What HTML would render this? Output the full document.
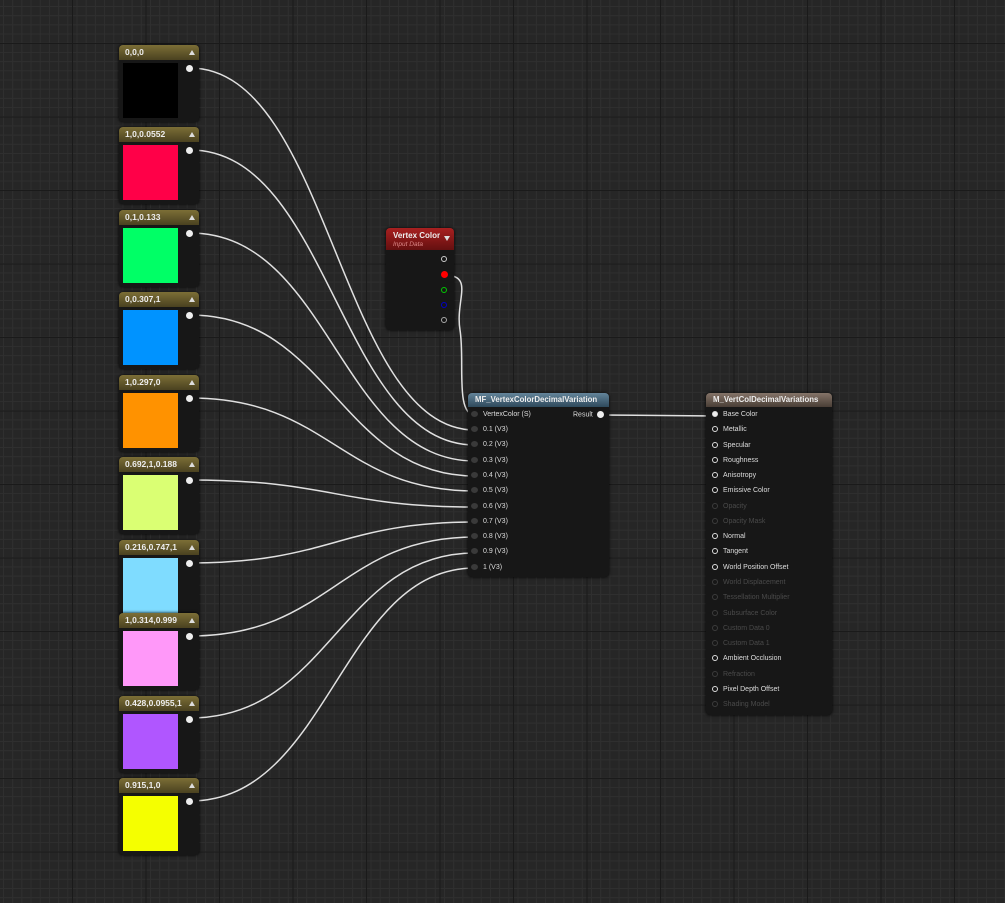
<!DOCTYPE html>
<html><head><style>
html,body{margin:0;padding:0;width:1005px;height:903px;overflow:hidden;background:#262626;font-family:"Liberation Sans",sans-serif;}
#bg{position:absolute;left:0;top:0;width:1005px;height:903px;
background-image:
linear-gradient(to right,#1a1a1a 0 1px,transparent 1px),
linear-gradient(to bottom,#1a1a1a 0 1px,transparent 1px),
linear-gradient(to right,#2f2f2f 0 1px,transparent 1px),
linear-gradient(to bottom,#2f2f2f 0 1px,transparent 1px);
background-size:73.5px 73.5px,73.5px 73.5px,9.19px 9.19px,9.19px 9.19px;
background-position:72px 0,0 43px,3px 0,0 6px;}
.n{position:absolute;background:#171717;border-radius:4px;box-shadow:0 0 3px #000;}
.ch{position:absolute;left:0;right:0;top:0;height:15px;border-radius:4px 4px 0 0;background:linear-gradient(#7c6e36,#4a4120);color:#eee;font-size:8.5px;font-weight:bold;line-height:15px;padding-left:6px;box-sizing:border-box}
.tri{position:absolute;right:4px;top:5px;width:0;height:0;border-left:3px solid transparent;border-right:3px solid transparent;border-bottom:5px solid #ddd}
.sw{position:absolute;left:4px;top:18px;width:55px;height:55px}
.pin{position:absolute;width:7px;height:7px;border-radius:50%;background:#eee}
.row{position:absolute;font-size:7px;color:#ddd;white-space:nowrap}
.dim{color:#4a4a4a}
.ip{display:inline-block;width:6px;height:6px;border-radius:50%;border:1.5px solid #ddd;box-sizing:border-box;vertical-align:middle;margin-right:5px}
.dim .ip{border-color:#3c3c3c}
.gp{display:inline-block;width:7px;height:6px;border-radius:50%;background:#3a3a3a;vertical-align:middle;margin-right:5px}
</style></head><body>
<div id="bg"></div>
<svg width="1005" height="903" style="position:absolute;left:0;top:0" fill="none" stroke="#e0e0e0" stroke-width="1.5">
<path d="M190 68 C330 68 340 430 475 430"/>
<path d="M190 150 C330 150 340 445 475 445"/>
<path d="M190 233 C330 233 340 461 475 461"/>
<path d="M190 315 C330 315 340 476 475 476"/>
<path d="M190 398 C330 398 340 491 475 491"/>
<path d="M190 480 C330 480 340 507 475 507"/>
<path d="M190 563 C330 563 340 522 475 522"/>
<path d="M190 636 C330 636 340 537 475 537"/>
<path d="M190 718 C330 718 340 553 475 553"/>
<path d="M190 801 C330 801 340 568 475 568"/>
<path d="M444 275 C475 275 455 300 460 330 C465 360 455 415 475 415"/>
<path d="M600 415 L716 416"/>
</svg>

<div class="n" style="left:119px;top:45px;width:80px;height:77px"><div class="ch">0,0,0</div><div class="tri"></div><div class="sw" style="background:#000"></div><div class="pin" style="left:67px;top:20px"></div></div>
<div class="n" style="left:119px;top:127px;width:80px;height:77px"><div class="ch">1,0,0.0552</div><div class="tri"></div><div class="sw" style="background:#ff0048"></div><div class="pin" style="left:67px;top:20px"></div></div>
<div class="n" style="left:119px;top:210px;width:80px;height:77px"><div class="ch">0,1,0.133</div><div class="tri"></div><div class="sw" style="background:#00ff66"></div><div class="pin" style="left:67px;top:20px"></div></div>
<div class="n" style="left:119px;top:292px;width:80px;height:77px"><div class="ch">0,0.307,1</div><div class="tri"></div><div class="sw" style="background:#0093ff"></div><div class="pin" style="left:67px;top:20px"></div></div>
<div class="n" style="left:119px;top:375px;width:80px;height:77px"><div class="ch">1,0.297,0</div><div class="tri"></div><div class="sw" style="background:#ff9200"></div><div class="pin" style="left:67px;top:20px"></div></div>
<div class="n" style="left:119px;top:457px;width:80px;height:77px"><div class="ch">0.692,1,0.188</div><div class="tri"></div><div class="sw" style="background:#daff73"></div><div class="pin" style="left:67px;top:20px"></div></div>
<div class="n" style="left:119px;top:540px;width:80px;height:77px"><div class="ch">0.216,0.747,1</div><div class="tri"></div><div class="sw" style="background:#7fdcff"></div><div class="pin" style="left:67px;top:20px"></div></div>
<div class="n" style="left:119px;top:613px;width:80px;height:77px"><div class="ch">1,0.314,0.999</div><div class="tri"></div><div class="sw" style="background:#ff98f9"></div><div class="pin" style="left:67px;top:20px"></div></div>
<div class="n" style="left:119px;top:696px;width:80px;height:77px"><div class="ch">0.428,0.0955,1</div><div class="tri"></div><div class="sw" style="background:#b056ff"></div><div class="pin" style="left:67px;top:20px"></div></div>
<div class="n" style="left:119px;top:778px;width:80px;height:77px"><div class="ch">0.915,1,0</div><div class="tri"></div><div class="sw" style="background:#f5ff00"></div><div class="pin" style="left:67px;top:20px"></div></div>

<div class="n" style="left:386px;top:228px;width:68px;height:102px">
<div style="position:absolute;left:0;right:0;top:0;height:22px;border-radius:4px 4px 0 0;background:linear-gradient(#a82020,#641010)"></div>
<div style="position:absolute;left:7px;top:3px;font-size:8px;font-weight:bold;color:#eee">Vertex Color</div>
<div style="position:absolute;left:7px;top:13px;font-size:6.5px;font-style:italic;color:#d88">Input Data</div>
<div style="position:absolute;right:4px;top:8px;border-left:3px solid transparent;border-right:3px solid transparent;border-top:5px solid #ddd"></div>
<div class="ip" style="position:absolute;left:55px;top:28px;border-color:#ccc"></div>
<div style="position:absolute;left:55px;top:43px;width:7px;height:7px;border-radius:50%;background:#f00"></div>
<div class="ip" style="position:absolute;left:55px;top:59px;border-color:#0c0"></div>
<div class="ip" style="position:absolute;left:55px;top:74px;border-color:#00c"></div>
<div class="ip" style="position:absolute;left:55px;top:89px;border-color:#aaa"></div>
</div>

<div class="n" style="left:468px;top:393px;width:141px;height:184px">
<div style="position:absolute;left:0;right:0;top:0;height:14px;border-radius:4px 4px 0 0;background:linear-gradient(#64849a,#2e4a5c);color:#eee;font-size:7.8px;font-weight:bold;line-height:14px;padding-left:7px">MF_VertexColorDecimalVariation</div>
<div class="row" style="left:3px;top:18px"><span class="gp"></span>VertexColor (S)</div>
<div class="row" style="left:105px;top:18px">Result <span style="display:inline-block;width:7px;height:7px;border-radius:50%;background:#eee;vertical-align:middle;margin-left:2px"></span></div>
<div class="row" style="left:3px;top:33px"><span class="gp"></span>0.1 (V3)</div>
<div class="row" style="left:3px;top:48px"><span class="gp"></span>0.2 (V3)</div>
<div class="row" style="left:3px;top:64px"><span class="gp"></span>0.3 (V3)</div>
<div class="row" style="left:3px;top:79px"><span class="gp"></span>0.4 (V3)</div>
<div class="row" style="left:3px;top:94px"><span class="gp"></span>0.5 (V3)</div>
<div class="row" style="left:3px;top:110px"><span class="gp"></span>0.6 (V3)</div>
<div class="row" style="left:3px;top:125px"><span class="gp"></span>0.7 (V3)</div>
<div class="row" style="left:3px;top:140px"><span class="gp"></span>0.8 (V3)</div>
<div class="row" style="left:3px;top:155px"><span class="gp"></span>0.9 (V3)</div>
<div class="row" style="left:3px;top:171px"><span class="gp"></span>1 (V3)</div>
</div>

<div class="n" style="left:706px;top:393px;width:126px;height:322px">
<div style="position:absolute;left:0;right:0;top:0;height:14px;border-radius:4px 4px 0 0;background:linear-gradient(#847468,#4a3e36);color:#eee;font-size:7.8px;font-weight:bold;line-height:14px;padding-left:7px">M_VertColDecimalVariations</div>
<div class="row" style="left:6px;top:18px"><span class="ip" style="background:#eee"></span>Base Color</div>
<div class="row" style="left:6px;top:33px"><span class="ip"></span>Metallic</div>
<div class="row" style="left:6px;top:49px"><span class="ip"></span>Specular</div>
<div class="row" style="left:6px;top:64px"><span class="ip"></span>Roughness</div>
<div class="row" style="left:6px;top:79px"><span class="ip"></span>Anisotropy</div>
<div class="row" style="left:6px;top:94px"><span class="ip"></span>Emissive Color</div>
<div class="row dim" style="left:6px;top:110px"><span class="ip"></span>Opacity</div>
<div class="row dim" style="left:6px;top:125px"><span class="ip"></span>Opacity Mask</div>
<div class="row" style="left:6px;top:140px"><span class="ip"></span>Normal</div>
<div class="row" style="left:6px;top:155px"><span class="ip"></span>Tangent</div>
<div class="row" style="left:6px;top:171px"><span class="ip"></span>World Position Offset</div>
<div class="row dim" style="left:6px;top:186px"><span class="ip"></span>World Displacement</div>
<div class="row dim" style="left:6px;top:201px"><span class="ip"></span>Tessellation Multiplier</div>
<div class="row dim" style="left:6px;top:217px"><span class="ip"></span>Subsurface Color</div>
<div class="row dim" style="left:6px;top:232px"><span class="ip"></span>Custom Data 0</div>
<div class="row dim" style="left:6px;top:247px"><span class="ip"></span>Custom Data 1</div>
<div class="row" style="left:6px;top:262px"><span class="ip"></span>Ambient Occlusion</div>
<div class="row dim" style="left:6px;top:278px"><span class="ip"></span>Refraction</div>
<div class="row" style="left:6px;top:293px"><span class="ip"></span>Pixel Depth Offset</div>
<div class="row dim" style="left:6px;top:308px"><span class="ip"></span>Shading Model</div>
</div>
</body></html>
